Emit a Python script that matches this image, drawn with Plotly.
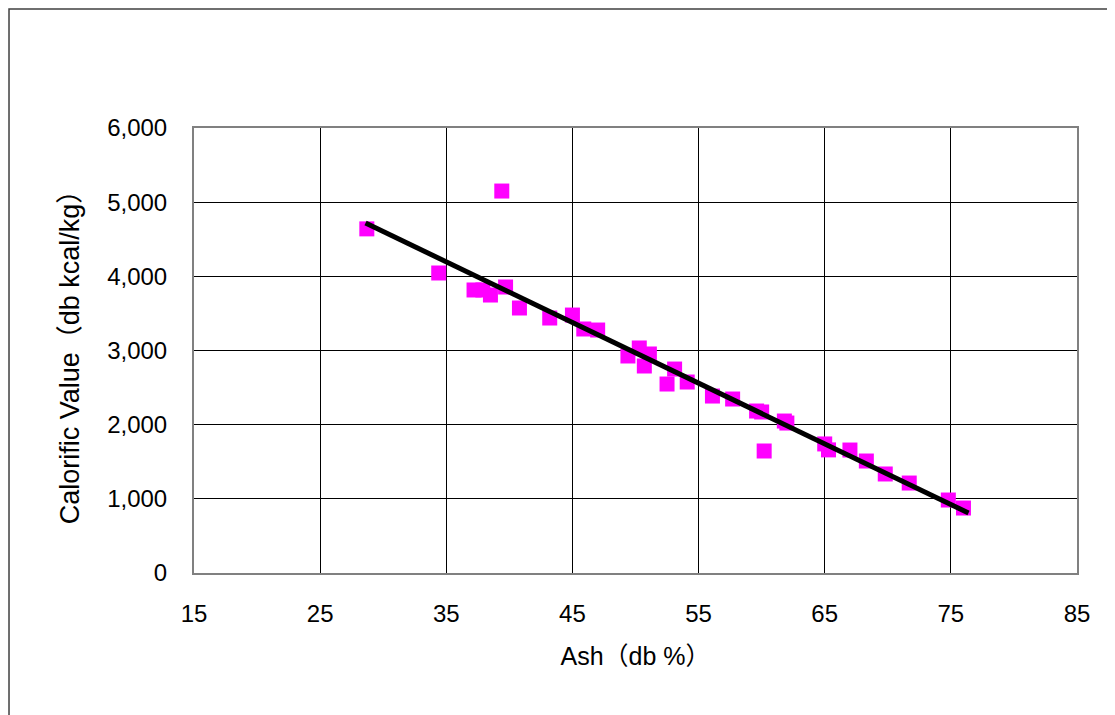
import plotly.graph_objects as go

ash = [28.7, 34.4, 37.2, 37.9, 38.5, 39.4, 39.7, 40.8, 43.2, 45.0, 45.9, 47.0,
       49.4, 50.3, 50.7, 51.1, 52.5, 53.1, 54.1, 56.1, 57.7, 59.6, 60.0, 60.2,
       61.8, 62.0, 65.0, 65.3, 67.0, 68.3, 69.8, 71.7, 74.8, 76.0]
cal = [4640, 4045, 3816, 3816, 3748, 5150, 3856, 3573, 3438, 3478, 3290, 3276,
       2926, 3034, 2791, 2953, 2548, 2750, 2575, 2386, 2346, 2184, 2171, 1645,
       2049, 2022, 1740, 1660, 1658, 1510, 1335, 1213, 984, 876]
trend_x = [28.6, 76.4]
trend_y = [4719, 809]

x_ticks = [15, 25, 35, 45, 55, 65, 75, 85]
y_ticks = [0, 1000, 2000, 3000, 4000, 5000, 6000]
y_labels = ["0", "1,000", "2,000", "3,000", "4,000", "5,000", "6,000"]

font_family = "Liberation Sans, Arial, Noto Sans CJK JP, sans-serif"

fig = go.Figure()
fig.add_trace(go.Scatter(x=ash, y=cal, mode="markers",
                         marker=dict(symbol="square", size=15, color="#FF00FF",
                                     line=dict(width=0)),
                         showlegend=False, cliponaxis=False))
fig.add_trace(go.Scatter(x=trend_x, y=trend_y, mode="lines",
                         line=dict(color="black", width=5),
                         showlegend=False))

fig.update_layout(
    width=1115, height=715,
    margin=dict(l=186, r=46, t=120, b=150),
    paper_bgcolor="white", plot_bgcolor="white",
    font=dict(family=font_family, size=24, color="black"),
    xaxis=dict(range=[15, 85], tickvals=x_ticks, ticktext=[str(v) for v in x_ticks],
               showgrid=True, gridcolor="#000000", gridwidth=1,
               zeroline=False, showline=True, linecolor="#808080", linewidth=2,
               mirror=True, ticks="", ticklen=0, ticklabelstandoff=18,
               title=dict(text="Ash（db %）", standoff=22,
                          font=dict(family=font_family, size=25)),
               tickfont=dict(size=24)),
    yaxis=dict(range=[0, 6000], tickvals=y_ticks, ticktext=y_labels,
               showgrid=True, gridcolor="#000000", gridwidth=1,
               zeroline=False, showline=True, linecolor="#808080", linewidth=2,
               mirror=True, ticks="", ticklen=0, ticklabelstandoff=20,
               title=dict(text="Calorific Value（db kcal/kg）", standoff=20,
                          font=dict(family=font_family, size=27)),
               tickfont=dict(size=24)),
    shapes=[dict(type="rect", xref="paper", yref="paper",
                 x0=-0.2095, x1=1.05, y0=-0.34, y1=1.2674,
                 line=dict(color="#404040", width=1.5), fillcolor="rgba(0,0,0,0)",
                 layer="below")],
)

fig.write_html("out.html")
